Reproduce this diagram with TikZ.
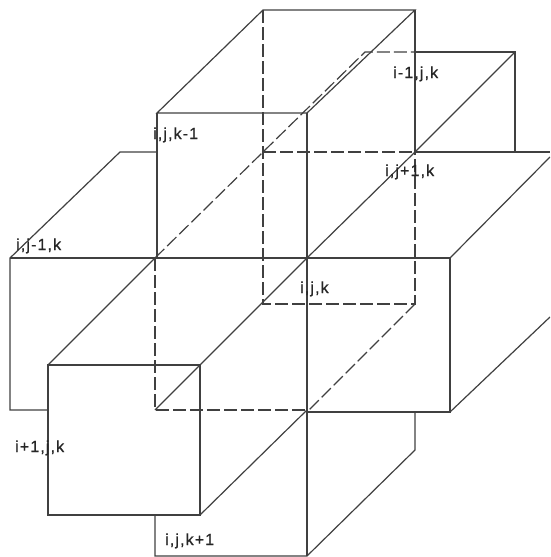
\documentclass[tikz,border=0pt]{standalone}
\usepackage{fontspec}
\newfontfamily\lblfont[LetterSpace=7,FakeBold=0.8]{Liberation Sans}
\begin{document}
\begin{tikzpicture}[x=1pt,y=-1pt,
  edge/.style={black!75,line width=1.2pt},
  hidden/.style={edge,dash pattern=on 13pt off 4pt},
  lbl/.style={black!85,inner sep=0pt,anchor=base west,font=\lblfont\fontsize{16}{19}\selectfont}]
\clip (0,0) rectangle (550,557);
\draw[hidden] (263,10)--(263,304)--(415,304)--(415,152);
\draw[hidden] (155,258)--(155,410)--(307,410);
\draw[hidden] (263,152)--(415,152);
\draw[hidden] (155,258)--(263,152)--(365,52)--(415,52);
\draw[hidden] (415,304)--(307,412);
\draw[edge] (157,113)--(263,10)--(415,10)--(307,113)--cycle;
\draw[edge] (157,113)--(157,258);
\draw[edge] (307,113)--(307,556);
\draw[edge] (415,10)--(415,152);
\draw[edge] (10,258)--(450,258);
\draw[edge] (157,152)--(120,152)--(10,258)--(10,410)--(48,410);
\draw[edge] (307,258)--(415,152)--(515,52);
\draw[edge] (415,152)--(550,152);
\draw[edge] (450,258)--(550,157);
\draw[edge] (450,258)--(450,412)--(307,412);
\draw[edge] (450,412)--(550,317);
\draw[edge] (415,52)--(515,52)--(515,152);
\draw[edge] (48,365) rectangle (200,515);
\draw[edge] (48,365)--(155,258);
\draw[edge] (155,410)--(307,258);
\draw[edge] (200,515)--(307,410);
\draw[edge] (155,515)--(155,556)--(307,556)--(415,450)--(415,412);
\node[lbl] (kminus) at (153,139) {i,j,k-1};
\node[lbl] (jminus) at (16,250) {i,j-1,k};
\node[lbl] (iminus) at (393,78) {i-1,j,k};
\node[lbl] (jplus) at (385,176) {i,j+1,k};
\node[lbl] (centre) at (300,293) {i,j,k};
\node[lbl] (iplus) at (15,452) {i+1,j,k};
\node[lbl] (kplus) at (165,545) {i,j,k+1};
\end{tikzpicture}
\end{document}
